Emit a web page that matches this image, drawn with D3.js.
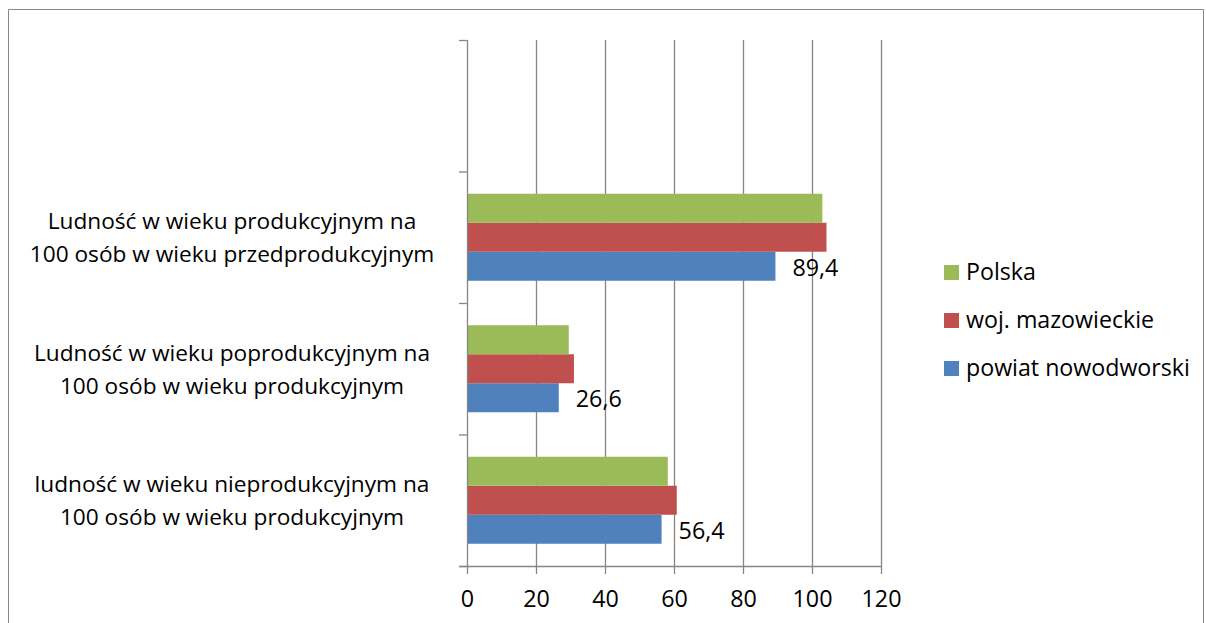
<!DOCTYPE html>
<html><head><meta charset="utf-8">
<script src="https://cdn.jsdelivr.net/npm/d3@7"></script>
<style>body{margin:0;background:#fff;} svg{display:block;font-family:"Open Sans", sans-serif;}</style>
</head><body><svg id="c" width="1206" height="623"></svg>
<script>
// categories from bottom to top (top slot empty as in original)
const categories = [
  ["ludność w wieku nieprodukcyjnym na", "100 osób w wieku produkcyjnym"],
  ["Ludność w wieku poprodukcyjnym na", "100 osób w wieku produkcyjnym"],
  ["Ludność w wieku produkcyjnym na", "100 osób w wieku przedprodukcyjnym"],
  [""]
];
const seriesNames = ["powiat nowodworski", "woj. mazowieckie", "Polska"];
const powiat = [56.4, 26.6, 89.4, null];
const mazowieckie = [60.8, 31.0, 104.2, null];
const polska = [58.2, 29.5, 103.0, null];
const colors = ["#4F81BD", "#C0504D", "#9BBB59"];
const xTicks = [0, 20, 40, 60, 80, 100, 120];
const series = [powiat, mazowieckie, polska];

const svg = d3.select("#c");
const FONT = "'Open Sans', sans-serif";

function fitSize(str, target){
  const t = svg.append("text").attr("font-size",20).attr("font-family",FONT).text(str);
  const w = t.node().getComputedTextLength();
  t.remove();
  return 20*target/w;
}
const catSize = fitSize("Ludność w wieku produkcyjnym na", 369);
const legSize = fitSize("powiat nowodworski", 224);
const lblSize = fitSize("89,4", 46);
const tickSize = fitSize("100", 40);

// outer border
svg.append("path").attr("d","M8.5,623 V9.5 H1203.5 V623").attr("fill","none").attr("stroke","#888").attr("stroke-width",1);

const x0 = 467, x1 = 881, yTop = 40, yBot = 566;
const x = d3.scaleLinear().domain([0,120]).range([x0,x1]);
const idx = d3.range(categories.length);
const y = d3.scaleBand().domain(idx).range([yBot, yTop]).paddingInner(0).paddingOuter(0);
const bandH = y.bandwidth();
const barH = 29;
const groupH = barH*3;

// gridlines
svg.append("g").selectAll("line").data(xTicks.filter(d=>d>0)).join("line")
  .attr("x1",d=>x(d)+0.5).attr("x2",d=>x(d)+0.5).attr("y1",yTop).attr("y2",yBot)
  .attr("stroke","#868686").attr("stroke-width",1.3);

// bars
const inner = d3.scaleBand().domain([2,1,0]).range([0,groupH]);
series.forEach((vals,si)=>{
  svg.append("g").selectAll("rect").data(idx.filter(i=>vals[i]!=null)).join("rect")
    .attr("x",x(0)).attr("width",i=>x(vals[i])-x(0))
    .attr("y",i=>y(i)+(bandH-groupH)/2+inner(si)).attr("height",barH)
    .attr("fill",colors[si]);
});

// data labels for powiat
svg.append("g").selectAll("text").data(idx.filter(i=>powiat[i]!=null)).join("text")
  .attr("x",i=>x(powiat[i])+17).attr("y",i=>y(i)+(bandH-groupH)/2+inner(0)+barH/2+9.5)
  .attr("font-size",lblSize).attr("fill","#000")
  .text(i=>String(powiat[i]).replace(".",","));

// y axis
svg.append("line").attr("x1",x0+0.5).attr("x2",x0+0.5).attr("y1",yTop).attr("y2",yBot).attr("stroke","#868686").attr("stroke-width",1.3);
const yTickPos = idx.map(i=>y(i)).concat([yBot]);
svg.append("g").selectAll("line").data(yTickPos).join("line")
  .attr("x1",x0-8).attr("x2",x0).attr("y1",d=>d+0.5).attr("y2",d=>d+0.5)
  .attr("stroke","#868686").attr("stroke-width",1.3);

// x axis
const xa = svg.append("g").attr("transform",`translate(0,${yBot})`)
  .call(d3.axisBottom(x).tickValues(xTicks).tickSize(8).tickPadding(14).tickFormat(d3.format("d")));
xa.select(".domain").attr("d",`M${x0-8},0.5H${x1}`).attr("stroke","#868686").attr("stroke-width",1.3);
xa.selectAll(".tick line").attr("stroke","#868686").attr("stroke-width",1.3);
xa.selectAll(".tick text").attr("font-size",tickSize).attr("font-family",FONT).attr("fill","#000")
  .attr("dy",null).attr("y",41);

// category labels
idx.forEach(i=>{
  const lines = categories[i];
  const cy = y(i)+bandH/2;
  lines.forEach((ln,k)=>{
    svg.append("text").attr("x",232).attr("y",cy - 8 + k*33)
      .attr("text-anchor","middle").attr("font-size",catSize).attr("fill","#000").text(ln);
  });
});

// legend
const legendOrder = [2,1,0];
legendOrder.forEach((si,k)=>{
  const top = 265 + k*48;
  svg.append("rect").attr("x",944).attr("y",top).attr("width",15).attr("height",15).attr("fill",colors[si]);
  svg.append("text").attr("x",966).attr("y",top+15).attr("font-size",legSize).attr("fill","#000").text(seriesNames[si]);
});
</script></body></html>
